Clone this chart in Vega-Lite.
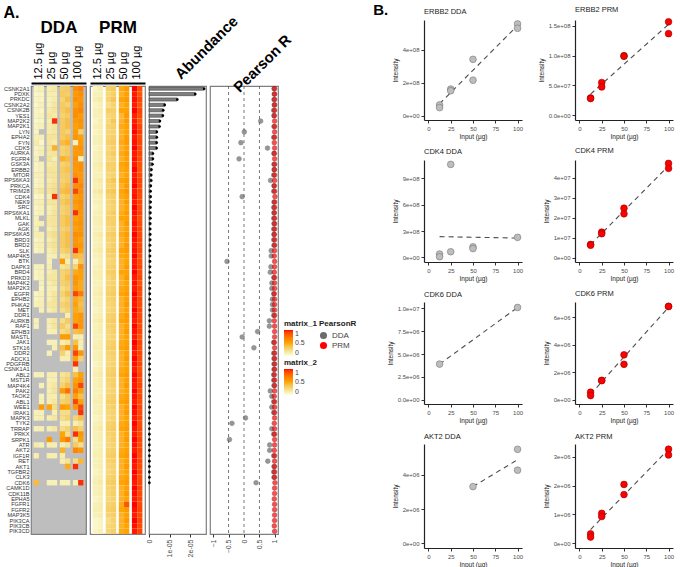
{
"$schema":"https://vega.github.io/schema/vega-lite/v6.json",
"padding":{"left":2,"top":2,"right":2,"bottom":1},
"background":"white",
"config":{
 "font":"Liberation Sans",
 "view":{"stroke":"#7f7f7f","strokeWidth":1.2},
 "axis":{"labelFont":"Liberation Sans","titleFont":"Liberation Sans","labelColor":"#4d4d4d","titleColor":"#1a1a1a","grid":false,"domainColor":"#333333","tickColor":"#333333"},
 "legend":{"labelFont":"Liberation Sans","titleFont":"Liberation Sans"},
 "title":{"font":"Liberation Sans"}
},
"datasets":{
 "cols":[
  {"key":"d1","dose":"12.5 µg","rep":1},{"key":"d2","dose":"12.5 µg","rep":2},{"key":"d3","dose":"25 µg","rep":1},{"key":"d4","dose":"25 µg","rep":2},
  {"key":"d5","dose":"50 µg","rep":1},{"key":"d6","dose":"50 µg","rep":2},{"key":"d7","dose":"100 µg","rep":1},{"key":"d8","dose":"100 µg","rep":2},
  {"key":"p1","dose":"12.5 µg","rep":1},{"key":"p2","dose":"12.5 µg","rep":2},{"key":"p3","dose":"25 µg","rep":1},{"key":"p4","dose":"25 µg","rep":2},
  {"key":"p5","dose":"50 µg","rep":1},{"key":"p6","dose":"50 µg","rep":2},{"key":"p7","dose":"100 µg","rep":1},{"key":"p8","dose":"100 µg","rep":2}
 ],
 "kin":[
{"k":"CSNK2A1","d1":0.08,"d2":0.1,"d3":0.12,"d4":0.15,"d5":0.3,"d6":0.32,"d7":0.62,"d8":0.68,"p1":0.08,"p2":0.12,"p3":0.3,"p4":0.32,"p5":0.48,"p6":0.55,"p7":1,"p8":0.88,"ab":2.67e-5,"DDA":0.97,"PRM":0.99},
{"k":"PDXK","d1":0.06,"d2":0.08,"d3":0.12,"d4":0.12,"d5":0.32,"d6":0.3,"d7":0.55,"d8":0.62,"p1":0.1,"p2":0.1,"p3":0.25,"p4":0.3,"p5":0.45,"p6":0.52,"p7":0.98,"p8":0.85,"ab":2.24e-5,"DDA":0.98,"PRM":0.99},
{"k":"PRKDC","d1":0.08,"d2":0.08,"d3":0.1,"d4":0.14,"d5":0.28,"d6":0.38,"d7":0.6,"d8":0.58,"p1":0.12,"p2":0.14,"p3":0.28,"p4":0.35,"p5":0.5,"p6":0.55,"p7":0.99,"p8":0.9,"ab":1.37e-5,"DDA":0.97,"PRM":0.99},
{"k":"CSNK2A2","d1":0.06,"d2":0.1,"d3":0.1,"d4":0.16,"d5":0.32,"d6":0.28,"d7":0.52,"d8":0.62,"p1":0.08,"p2":0.1,"p3":0.22,"p4":0.28,"p5":0.45,"p6":0.5,"p7":0.98,"p8":0.86,"ab":0.76e-5,"DDA":0.98,"PRM":0.99},
{"k":"CSNK2B","d1":0.08,"d2":0.08,"d3":0.14,"d4":0.18,"d5":0.32,"d6":0.38,"d7":0.6,"d8":0.66,"p1":0.1,"p2":0.12,"p3":0.3,"p4":0.3,"p5":0.5,"p6":0.52,"p7":1,"p8":0.9,"ab":0.69e-5,"DDA":0.96,"PRM":0.99},
{"k":"YES1","d1":0.08,"d2":0.1,"d3":0.16,"d4":0.14,"d5":0.28,"d6":0.32,"d7":0.62,"d8":0.55,"p1":0.1,"p2":0.1,"p3":0.25,"p4":0.28,"p5":0.42,"p6":0.55,"p7":0.97,"p8":0.88,"ab":0.67e-5,"DDA":0.97,"PRM":0.98},
{"k":"MAP2K2","d1":0.06,"d2":0.08,"d3":0.12,"d4":0.95,"d5":0.32,"d6":0.38,"d7":0.56,"d8":0.6,"p1":0.08,"p2":0.12,"p3":0.25,"p4":0.35,"p5":0.45,"p6":0.55,"p7":0.98,"p8":0.85,"ab":0.53e-5,"DDA":0.54,"PRM":0.99},
{"k":"MAP2K1","d1":0.08,"d2":0.1,"d3":0.14,"d4":0.18,"d5":0.32,"d6":0.38,"d7":0.52,"d8":0.58,"p1":0.1,"p2":0.12,"p3":0.28,"p4":0.3,"p5":0.48,"p6":0.52,"p7":0.99,"p8":0.9,"ab":0.51e-5,"DDA":0.97,"PRM":0.99},
{"k":"LYN","d1":0.08,"d2":null,"d3":0.14,"d4":0.16,"d5":0.32,"d6":0.28,"d7":0.55,"d8":0.3,"p1":0.08,"p2":0.1,"p3":0.26,"p4":0.28,"p5":0.45,"p6":0.5,"p7":1,"p8":0.92,"ab":0.38e-5,"DDA":0.01,"PRM":0.99},
{"k":"EPHA2","d1":0.1,"d2":0.12,"d3":0.18,"d4":0.18,"d5":0.32,"d6":0.38,"d7":0.58,"d8":0.52,"p1":0.1,"p2":0.12,"p3":0.28,"p4":0.3,"p5":0.45,"p6":0.55,"p7":0.98,"p8":0.88,"ab":0.38e-5,"DDA":0.96,"PRM":0.99},
{"k":"FYN","d1":0.14,"d2":0.06,"d3":0.16,"d4":0.14,"d5":0.4,"d6":0.45,"d7":0.1,"d8":0.55,"p1":0.1,"p2":0.12,"p3":0.3,"p4":0.32,"p5":0.48,"p6":0.55,"p7":0.99,"p8":0.9,"ab":0.37e-5,"DDA":-0.1,"PRM":0.98},
{"k":"CDK5","d1":0.08,"d2":0.1,"d3":0.18,"d4":0.45,"d5":0.28,"d6":0.32,"d7":0.55,"d8":0.6,"p1":0.08,"p2":0.1,"p3":0.25,"p4":0.3,"p5":0.45,"p6":0.52,"p7":1,"p8":0.88,"ab":0.37e-5,"DDA":0.76,"PRM":0.99},
{"k":"AURKA","d1":0.08,"d2":0.12,"d3":0.16,"d4":0.18,"d5":0.28,"d6":0.32,"d7":0.55,"d8":0.56,"p1":0.1,"p2":0.12,"p3":0.28,"p4":0.32,"p5":0.48,"p6":0.55,"p7":0.98,"p8":0.9,"ab":0.19e-5,"DDA":0.97,"PRM":0.98},
{"k":"FGFR4","d1":0.1,"d2":null,"d3":0.18,"d4":0.12,"d5":0.45,"d6":0.4,"d7":0.6,"d8":0.1,"p1":0.1,"p2":0.12,"p3":0.26,"p4":0.28,"p5":0.45,"p6":0.52,"p7":0.99,"p8":0.88,"ab":0.19e-5,"DDA":-0.16,"PRM":0.99},
{"k":"GSK3A","d1":0.08,"d2":0.1,"d3":0.14,"d4":0.16,"d5":0.28,"d6":0.32,"d7":0.58,"d8":0.6,"p1":0.12,"p2":0.14,"p3":0.3,"p4":0.3,"p5":0.5,"p6":0.55,"p7":0.98,"p8":0.86,"ab":0.17e-5,"DDA":0.97,"PRM":0.99},
{"k":"ERBB2","d1":0.08,"d2":0.1,"d3":0.18,"d4":0.18,"d5":0.32,"d6":0.36,"d7":0.55,"d8":0.6,"p1":0.1,"p2":0.12,"p3":0.28,"p4":0.3,"p5":0.48,"p6":0.52,"p7":1,"p8":0.85,"ab":0.12e-5,"DDA":0.98,"PRM":0.98},
{"k":"MTOR","d1":0.1,"d2":0.1,"d3":0.16,"d4":0.18,"d5":0.3,"d6":0.32,"d7":0.6,"d8":0.56,"p1":0.1,"p2":0.1,"p3":0.25,"p4":0.28,"p5":0.45,"p6":0.5,"p7":0.98,"p8":0.88,"ab":0.11e-5,"DDA":0.96,"PRM":0.99},
{"k":"RPS6KA3","d1":0.08,"d2":0.1,"d3":0.14,"d4":0.18,"d5":0.28,"d6":0.32,"d7":0.95,"d8":0.58,"p1":0.12,"p2":0.14,"p3":0.3,"p4":0.35,"p5":0.5,"p6":0.55,"p7":0.99,"p8":0.9,"ab":0.11e-5,"DDA":0.86,"PRM":0.99},
{"k":"PRKCA","d1":0.08,"d2":0.1,"d3":0.16,"d4":0.2,"d5":0.32,"d6":0.38,"d7":0.6,"d8":0.65,"p1":0.1,"p2":0.12,"p3":0.28,"p4":0.3,"p5":0.45,"p6":0.55,"p7":1,"p8":0.88,"ab":0.09e-5,"DDA":0.97,"PRM":0.98},
{"k":"TRIM28","d1":0.12,"d2":0.16,"d3":0.18,"d4":0.22,"d5":0.38,"d6":0.42,"d7":0.9,"d8":0.62,"p1":0.14,"p2":0.16,"p3":0.32,"p4":0.35,"p5":0.5,"p6":0.58,"p7":0.98,"p8":0.9,"ab":0.08e-5,"DDA":0.96,"PRM":0.99},
{"k":"CDK4","d1":0.06,"d2":0.08,"d3":0.12,"d4":0.95,"d5":0.28,"d6":0.32,"d7":0.52,"d8":0.58,"p1":0.1,"p2":0.12,"p3":0.28,"p4":0.3,"p5":0.48,"p6":0.52,"p7":0.99,"p8":0.88,"ab":0.08e-5,"DDA":-0.06,"PRM":1},
{"k":"NEK9","d1":0.1,"d2":0.12,"d3":0.16,"d4":0.18,"d5":0.32,"d6":0.38,"d7":0.58,"d8":0.62,"p1":0.1,"p2":0.12,"p3":0.26,"p4":0.3,"p5":0.45,"p6":0.55,"p7":0.98,"p8":0.9,"ab":0.08e-5,"DDA":0.97,"PRM":0.99},
{"k":"SRC","d1":0.08,"d2":0.1,"d3":0.12,"d4":0.16,"d5":0.28,"d6":0.32,"d7":0.52,"d8":0.6,"p1":0.08,"p2":0.1,"p3":0.25,"p4":0.28,"p5":0.45,"p6":0.5,"p7":1,"p8":0.88,"ab":0.07e-5,"DDA":0.96,"PRM":0.99},
{"k":"RPS6KA1","d1":0.08,"d2":0.1,"d3":0.12,"d4":0.18,"d5":0.28,"d6":0.32,"d7":0.95,"d8":0.58,"p1":0.1,"p2":0.12,"p3":0.28,"p4":0.32,"p5":0.48,"p6":0.55,"p7":0.99,"p8":0.9,"ab":0.07e-5,"DDA":0.97,"PRM":0.98},
{"k":"MLKL","d1":0.1,"d2":null,"d3":0.16,"d4":0.18,"d5":0.32,"d6":0.38,"d7":0.52,"d8":0.58,"p1":0.12,"p2":0.12,"p3":0.3,"p4":0.3,"p5":0.5,"p6":0.52,"p7":0.98,"p8":0.86,"ab":0.07e-5,"DDA":0.96,"PRM":0.99},
{"k":"GAK","d1":0.1,"d2":0.12,"d3":0.16,"d4":0.18,"d5":0.32,"d6":0.38,"d7":0.56,"d8":0.6,"p1":0.1,"p2":0.12,"p3":0.28,"p4":0.3,"p5":0.45,"p6":0.55,"p7":0.99,"p8":0.88,"ab":0.06e-5,"DDA":0.97,"PRM":0.99},
{"k":"AGK","d1":0.1,"d2":null,"d3":0.12,"d4":0.16,"d5":0.28,"d6":0.32,"d7":0.52,"d8":0.58,"p1":0.1,"p2":0.1,"p3":0.25,"p4":0.28,"p5":0.45,"p6":0.5,"p7":0.98,"p8":0.9,"ab":0.06e-5,"DDA":0.96,"PRM":0.99},
{"k":"RPS6KA5","d1":0.12,"d2":0.12,"d3":0.18,"d4":0.22,"d5":0.32,"d6":0.38,"d7":0.62,"d8":0.6,"p1":0.12,"p2":0.14,"p3":0.3,"p4":0.32,"p5":0.48,"p6":0.55,"p7":1,"p8":0.88,"ab":0.06e-5,"DDA":0.97,"PRM":0.98},
{"k":"BRD3","d1":0.08,"d2":0.1,"d3":0.12,"d4":0.18,"d5":0.32,"d6":0.38,"d7":0.58,"d8":0.52,"p1":0.1,"p2":0.12,"p3":0.28,"p4":0.3,"p5":0.45,"p6":0.52,"p7":0.99,"p8":0.9,"ab":0.06e-5,"DDA":0.96,"PRM":0.99},
{"k":"BRD2","d1":0.1,"d2":0.12,"d3":0.16,"d4":0.2,"d5":0.32,"d6":0.38,"d7":0.6,"d8":0.58,"p1":0.1,"p2":0.12,"p3":0.26,"p4":0.3,"p5":0.45,"p6":0.55,"p7":0.98,"p8":0.88,"ab":0.05e-5,"DDA":0.97,"PRM":0.99},
{"k":"SLK","d1":0.08,"d2":0.1,"d3":0.12,"d4":0.16,"d5":0.28,"d6":0.32,"d7":0.95,"d8":0.52,"p1":0.12,"p2":0.14,"p3":0.3,"p4":0.32,"p5":0.5,"p6":0.55,"p7":0.99,"p8":0.9,"ab":0.05e-5,"DDA":0.88,"PRM":0.99},
{"k":"MAP4K5","d1":null,"d2":null,"d3":0.1,"d4":0.12,"d5":0.18,"d6":0.22,"d7":0.42,"d8":0.38,"p1":0.1,"p2":0.12,"p3":0.28,"p4":0.3,"p5":0.48,"p6":0.52,"p7":1,"p8":0.86,"ab":0.05e-5,"DDA":0.88,"PRM":0.98},
{"k":"BTK","d1":null,"d2":null,"d3":0.1,"d4":null,"d5":0.55,"d6":0.12,"d7":0.12,"d8":0.35,"p1":0.08,"p2":0.1,"p3":0.25,"p4":0.28,"p5":0.45,"p6":0.5,"p7":0.98,"p8":0.88,"ab":0.05e-5,"DDA":-0.55,"PRM":0.99},
{"k":"DAPK3","d1":0.1,"d2":0.1,"d3":0.12,"d4":null,"d5":0.18,"d6":0.22,"d7":0.28,"d8":0.6,"p1":0.1,"p2":0.12,"p3":0.28,"p4":0.3,"p5":0.45,"p6":0.55,"p7":0.99,"p8":0.9,"ab":0.05e-5,"DDA":0.87,"PRM":0.99},
{"k":"BRD4","d1":0.08,"d2":0.1,"d3":0.12,"d4":0.16,"d5":0.28,"d6":0.32,"d7":0.48,"d8":0.52,"p1":0.12,"p2":0.12,"p3":0.3,"p4":0.32,"p5":0.5,"p6":0.52,"p7":1,"p8":0.88,"ab":0.05e-5,"DDA":0.85,"PRM":0.98},
{"k":"PRKD3","d1":0.08,"d2":0.1,"d3":0.16,"d4":0.16,"d5":0.28,"d6":0.38,"d7":0.58,"d8":0.52,"p1":0.1,"p2":0.12,"p3":0.26,"p4":0.3,"p5":0.45,"p6":0.55,"p7":0.98,"p8":0.9,"ab":0.04e-5,"DDA":0.96,"PRM":0.99},
{"k":"MAP4K2","d1":null,"d2":0.1,"d3":0.12,"d4":0.16,"d5":0.28,"d6":0.32,"d7":0.58,"d8":0.48,"p1":0.1,"p2":0.1,"p3":0.25,"p4":0.28,"p5":0.45,"p6":0.5,"p7":0.99,"p8":0.86,"ab":0.04e-5,"DDA":0.9,"PRM":0.99},
{"k":"MAP2K3","d1":null,"d2":0.08,"d3":0.12,"d4":0.12,"d5":0.22,"d6":0.28,"d7":0.52,"d8":0.48,"p1":0.1,"p2":0.12,"p3":0.28,"p4":0.3,"p5":0.48,"p6":0.52,"p7":0.98,"p8":0.9,"ab":0.04e-5,"DDA":0.9,"PRM":0.99},
{"k":"EGFR","d1":0.08,"d2":0.1,"d3":0.12,"d4":0.16,"d5":0.28,"d6":0.38,"d7":0.9,"d8":0.7,"p1":0.12,"p2":0.14,"p3":0.3,"p4":0.32,"p5":0.5,"p6":0.55,"p7":1,"p8":0.88,"ab":0.04e-5,"DDA":0.96,"PRM":0.98},
{"k":"EPHB2","d1":0.08,"d2":0.1,"d3":0.12,"d4":0.18,"d5":0.22,"d6":0.28,"d7":0.48,"d8":0.42,"p1":0.1,"p2":0.12,"p3":0.28,"p4":0.3,"p5":0.45,"p6":0.52,"p7":0.99,"p8":0.9,"ab":0.04e-5,"DDA":0.92,"PRM":0.99},
{"k":"PHKA2","d1":0.1,"d2":0.12,"d3":0.16,"d4":0.18,"d5":0.28,"d6":0.32,"d7":0.52,"d8":0.38,"p1":0.1,"p2":0.12,"p3":0.26,"p4":0.28,"p5":0.45,"p6":0.55,"p7":0.98,"p8":0.88,"ab":0.04e-5,"DDA":0.92,"PRM":0.99},
{"k":"MET","d1":null,"d2":0.1,"d3":0.12,"d4":0.16,"d5":0.22,"d6":0.28,"d7":0.48,"d8":0.42,"p1":0.08,"p2":0.1,"p3":0.25,"p4":0.28,"p5":0.45,"p6":0.5,"p7":1,"p8":0.9,"ab":0.04e-5,"DDA":0.92,"PRM":0.99},
{"k":"DDR1","d1":null,"d2":null,"d3":null,"d4":null,"d5":null,"d6":0.12,"d7":0.52,"d8":0.58,"p1":0.1,"p2":0.12,"p3":0.28,"p4":0.3,"p5":0.48,"p6":0.55,"p7":0.99,"p8":0.88,"ab":0.04e-5,"DDA":0.96,"PRM":0.99},
{"k":"AURKB","d1":0.1,"d2":null,"d3":0.12,"d4":0.16,"d5":0.22,"d6":0.32,"d7":0.52,"d8":0.58,"p1":0.12,"p2":0.14,"p3":0.3,"p4":0.32,"p5":0.5,"p6":0.55,"p7":0.98,"p8":0.9,"ab":0.04e-5,"DDA":0.82,"PRM":0.98},
{"k":"RAF1","d1":0.1,"d2":null,"d3":0.12,"d4":0.18,"d5":0.32,"d6":0.22,"d7":0.9,"d8":0.58,"p1":0.1,"p2":0.12,"p3":0.28,"p4":0.3,"p5":0.45,"p6":0.52,"p7":1,"p8":0.88,"ab":0.04e-5,"DDA":0.82,"PRM":0.99},
{"k":"EPHB3","d1":null,"d2":null,"d3":0.1,"d4":0.12,"d5":0.22,"d6":0.28,"d7":0.38,"d8":0.42,"p1":0.1,"p2":0.12,"p3":0.26,"p4":0.3,"p5":0.45,"p6":0.55,"p7":0.99,"p8":0.9,"ab":0.04e-5,"DDA":0.44,"PRM":0.99},
{"k":"MASTL","d1":null,"d2":null,"d3":null,"d4":null,"d5":0.55,"d6":0.55,"d7":0.12,"d8":0.12,"p1":0.1,"p2":0.1,"p3":0.25,"p4":0.28,"p5":0.45,"p6":0.5,"p7":0.98,"p8":0.86,"ab":0.03e-5,"DDA":-0.06,"PRM":0.99},
{"k":"JAK1","d1":null,"d2":null,"d3":0.1,"d4":0.1,"d5":0.12,"d6":0.16,"d7":0.38,"d8":0.12,"p1":0.1,"p2":0.12,"p3":0.28,"p4":0.3,"p5":0.48,"p6":0.52,"p7":1,"p8":0.9,"ab":0.03e-5,"DDA":0.96,"PRM":0.98},
{"k":"STK16","d1":null,"d2":null,"d3":null,"d4":0.12,"d5":0.38,"d6":0.55,"d7":0.58,"d8":0.12,"p1":0.12,"p2":0.12,"p3":0.3,"p4":0.32,"p5":0.5,"p6":0.55,"p7":0.99,"p8":0.88,"ab":0.03e-5,"DDA":0.32,"PRM":0.99},
{"k":"DDR2","d1":null,"d2":null,"d3":0.1,"d4":null,"d5":0.28,"d6":0.12,"d7":0.9,"d8":0.58,"p1":0.1,"p2":0.12,"p3":0.28,"p4":0.3,"p5":0.45,"p6":0.52,"p7":0.98,"p8":0.9,"ab":0.03e-5,"DDA":0.96,"PRM":0.99},
{"k":"ADCK1","d1":null,"d2":null,"d3":null,"d4":null,"d5":0.12,"d6":0.12,"d7":0.52,"d8":0.28,"p1":0.1,"p2":0.12,"p3":0.26,"p4":0.28,"p5":0.45,"p6":0.55,"p7":1,"p8":0.88,"ab":0.03e-5,"DDA":0.97,"PRM":0.99},
{"k":"PDGFRB","d7":0.95,"p1":0.08,"p2":0.1,"p3":0.25,"p4":0.28,"p5":0.45,"p6":0.5,"p7":0.99,"p8":0.9,"ab":0.03e-5,"DDA":0.97,"PRM":0.99},
{"k":"CSNK1A1","d7":0.12,"p1":0.1,"p2":0.12,"p3":0.28,"p4":0.3,"p5":0.48,"p6":0.52,"p7":0.98,"p8":0.86,"ab":0.03e-5,"DDA":0.97,"PRM":0.99},
{"k":"ABL2","d1":0.1,"d2":0.1,"d3":0.12,"d4":0.12,"d5":0.18,"d6":0.22,"d7":0.38,"d8":0.52,"p1":0.12,"p2":0.14,"p3":0.3,"p4":0.32,"p5":0.5,"p6":0.55,"p7":1,"p8":0.9,"ab":0.03e-5,"DDA":0.96,"PRM":0.98},
{"k":"MST1R","d1":null,"d2":null,"d3":0.1,"d4":0.12,"d5":0.22,"d6":0.28,"d7":0.52,"d8":0.58,"p1":0.1,"p2":0.12,"p3":0.28,"p4":0.3,"p5":0.45,"p6":0.52,"p7":0.99,"p8":0.88,"ab":0.03e-5,"DDA":0.96,"PRM":0.99},
{"k":"MAP4K4","d1":null,"d2":0.1,"d3":0.12,"d4":0.16,"d5":0.28,"d6":0.38,"d7":0.58,"d8":0.9,"p1":0.1,"p2":0.12,"p3":0.26,"p4":0.3,"p5":0.45,"p6":0.55,"p7":0.98,"p8":0.9,"ab":0.03e-5,"DDA":0.97,"PRM":0.99},
{"k":"PAK2","d1":null,"d2":null,"d3":0.12,"d4":0.18,"d5":0.55,"d6":0.75,"d7":0.7,"d8":0.52,"p1":0.1,"p2":0.1,"p3":0.25,"p4":0.28,"p5":0.45,"p6":0.5,"p7":1,"p8":0.88,"ab":0.03e-5,"DDA":0.85,"PRM":0.99},
{"k":"TAOK2","d1":null,"d2":0.1,"d3":0.12,"d4":0.12,"d5":0.22,"d6":0.32,"d7":0.52,"d8":0.38,"p1":0.1,"p2":0.12,"p3":0.28,"p4":0.3,"p5":0.48,"p6":0.52,"p7":0.99,"p8":0.9,"ab":0.03e-5,"DDA":0.9,"PRM":0.98},
{"k":"ABL1","d1":null,"d2":0.1,"d3":0.12,"d4":0.16,"d5":0.28,"d6":0.32,"d7":0.9,"d8":0.52,"p1":0.12,"p2":0.12,"p3":0.3,"p4":0.32,"p5":0.5,"p6":0.55,"p7":0.98,"p8":0.88,"ab":0.03e-5,"DDA":0.96,"PRM":0.99},
{"k":"WEE1","d1":null,"d2":0.55,"d3":0.5,"d4":0.22,"d5":0.55,"d6":0.5,"d7":0.58,"d8":0.9,"p1":0.1,"p2":0.12,"p3":0.28,"p4":0.3,"p5":0.45,"p6":0.52,"p7":1,"p8":0.9,"ab":0.03e-5,"DDA":0.9,"PRM":0.99},
{"k":"IRAK1","d1":0.1,"d2":0.1,"d3":null,"d4":0.12,"d5":0.22,"d6":0.22,"d7":null,"d8":0.95,"p1":0.1,"p2":0.12,"p3":0.26,"p4":0.28,"p5":0.45,"p6":0.55,"p7":0.99,"p8":0.88,"ab":0.03e-5,"DDA":0.96,"PRM":0.99},
{"k":"MAPK3","d1":0.1,"d2":0.12,"d3":0.12,"d4":0.16,"d5":0.22,"d6":0.28,"d7":0.28,"d8":0.38,"p1":0.08,"p2":0.1,"p3":0.25,"p4":0.28,"p5":0.45,"p6":0.5,"p7":0.98,"p8":0.9,"ab":0.02e-5,"DDA":0.05,"PRM":0.99},
{"k":"TYK2","d1":null,"d2":null,"d3":null,"d4":null,"d5":0.12,"d6":0.12,"d7":0.12,"d8":0.18,"p1":0.1,"p2":0.12,"p3":0.28,"p4":0.3,"p5":0.48,"p6":0.52,"p7":1,"p8":0.88,"ab":0.02e-5,"DDA":-0.39,"PRM":0.98},
{"k":"TRRAP","d1":0.1,"d2":0.12,"d3":0.12,"d4":0.16,"d5":0.22,"d6":0.28,"d7":0.38,"d8":0.28,"p1":0.12,"p2":0.14,"p3":0.3,"p4":0.32,"p5":0.5,"p6":0.55,"p7":0.99,"p8":0.9,"ab":0.02e-5,"DDA":0.9,"PRM":0.99},
{"k":"PRKX","d1":null,"d2":null,"d3":null,"d4":null,"d5":0.5,"d6":0.22,"d7":0.95,"d8":0.58,"p1":0.1,"p2":0.12,"p3":0.28,"p4":0.3,"p5":0.45,"p6":0.52,"p7":0.98,"p8":0.88,"ab":0.02e-5,"DDA":0.96,"PRM":0.99},
{"k":"SRPK1","d1":null,"d2":null,"d3":0.55,"d4":null,"d5":0.55,"d6":0.7,"d7":0.22,"d8":0.52,"p1":0.1,"p2":0.12,"p3":0.26,"p4":0.3,"p5":0.45,"p6":0.55,"p7":1,"p8":0.9,"ab":0.02e-5,"DDA":-0.47,"PRM":0.99},
{"k":"ATR","d1":0.14,"d2":0.1,"d3":0.12,"d4":0.12,"d5":0.12,"d6":0.18,"d7":0.32,"d8":0.22,"p1":0.1,"p2":0.1,"p3":0.25,"p4":0.28,"p5":0.45,"p6":0.5,"p7":0.99,"p8":0.88,"ab":0.02e-5,"DDA":0.83,"PRM":0.99},
{"k":"AKT2","d1":null,"d2":null,"d3":null,"d4":null,"d5":0.45,"d6":null,"d7":0.65,"d8":0.58,"p1":0.1,"p2":0.12,"p3":0.28,"p4":0.3,"p5":0.48,"p6":0.52,"p7":0.98,"p8":0.9,"ab":0.02e-5,"DDA":0.83,"PRM":0.98},
{"k":"IGF1R","d1":0.12,"d2":null,"d3":0.12,"d4":0.12,"d5":0.12,"d6":null,"d7":null,"d8":null,"p1":0.12,"p2":0.12,"p3":0.3,"p4":0.32,"p5":0.5,"p6":0.55,"p7":1,"p8":0.88,"ab":0.02e-5,"DDA":0.96,"PRM":0.99},
{"k":"RET","d1":null,"d2":null,"d3":null,"d4":null,"d5":0.12,"d6":0.18,"d7":0.22,"d8":0.42,"p1":0.1,"p2":0.12,"p3":0.28,"p4":0.3,"p5":0.45,"p6":0.52,"p7":0.99,"p8":0.9,"ab":0.02e-5,"DDA":0.77,"PRM":0.99},
{"k":"AKT1","d6":0.48,"d7":0.95,"p1":0.1,"p2":0.12,"p3":0.26,"p4":0.28,"p5":0.45,"p6":0.55,"p7":0.98,"p8":0.88,"ab":0.02e-5,"DDA":0.97,"PRM":0.99},
{"k":"TGFBR2","p1":0.08,"p2":0.1,"p3":0.25,"p4":0.28,"p5":0.45,"p6":0.5,"p7":1,"p8":0.9,"ab":0.02e-5,"DDA":0.96,"PRM":0.99},
{"k":"CLK3","p1":0.1,"p2":0.12,"p3":0.28,"p4":0.3,"p5":0.48,"p6":0.52,"p7":0.99,"p8":0.88,"ab":0.02e-5,"DDA":0.97,"PRM":0.99},
{"k":"CDK6","d1":0.4,"d3":0.1,"d4":0.1,"d5":0.1,"d6":0.1,"d7":0.1,"d8":0.95,"p1":0.12,"p2":0.14,"p3":0.3,"p4":0.32,"p5":0.5,"p6":0.55,"p7":0.98,"p8":0.9,"ab":0.02e-5,"DDA":0.39,"PRM":1},
{"k":"CAMK1D","p1":0.1,"p2":0.12,"p3":0.28,"p4":0.3,"p5":0.45,"p6":0.52,"p7":1,"p8":0.9,"PRM":0.99},
{"k":"CDK11B","p1":0.1,"p2":0.12,"p3":0.26,"p4":0.3,"p5":0.45,"p6":0.55,"p7":0.99,"p8":0.88,"PRM":0.99},
{"k":"EPHA5","p1":0.08,"p2":0.1,"p3":0.25,"p4":0.28,"p5":0.45,"p6":0.5,"p7":0.98,"p8":0.9,"PRM":0.98},
{"k":"FGFR1","p1":0.1,"p2":0.12,"p3":0.28,"p4":0.3,"p5":0.48,"p6":0.85,"p7":1,"p8":0.88,"PRM":0.99},
{"k":"FGFR2","p1":0.12,"p2":0.12,"p3":0.3,"p4":0.32,"p5":0.5,"p6":0.55,"p7":0.99,"p8":0.9,"PRM":0.99},
{"k":"MAP3K5","p1":0.1,"p2":0.12,"p3":0.28,"p4":0.3,"p5":0.45,"p6":0.52,"p7":0.98,"p8":0.88,"PRM":0.99},
{"k":"PIK3CA","p1":0.06,"p2":0.08,"p3":0.22,"p4":0.28,"p5":0.45,"p6":0.55,"p7":1,"p8":0.9,"PRM":0.99},
{"k":"PIK3CB","p1":0.06,"p2":0.08,"p3":0.25,"p4":0.28,"p5":0.45,"p6":0.5,"p7":0.99,"p8":0.88,"PRM":0.98},
{"k":"PIK3CD","p1":0.08,"p2":0.1,"p3":0.26,"p4":0.3,"p5":0.48,"p6":0.52,"p7":0.98,"p8":0.9,"PRM":0.99}
 ],
 "pts":[
  {"plot":"ERBB2 DDA","x":12.5,"y":6.6e7},{"plot":"ERBB2 DDA","x":12.5,"y":5.0e7},{"plot":"ERBB2 DDA","x":25,"y":1.62e8},{"plot":"ERBB2 DDA","x":25,"y":1.52e8},{"plot":"ERBB2 DDA","x":50,"y":3.42e8},{"plot":"ERBB2 DDA","x":50,"y":2.16e8},{"plot":"ERBB2 DDA","x":100,"y":5.56e8},{"plot":"ERBB2 DDA","x":100,"y":5.3e8},
  {"plot":"ERBB2 PRM","x":12.5,"y":2.9e7},{"plot":"ERBB2 PRM","x":12.5,"y":2.8e7},{"plot":"ERBB2 PRM","x":25,"y":5.5e7},{"plot":"ERBB2 PRM","x":25,"y":4.76e7},{"plot":"ERBB2 PRM","x":50,"y":1.0e8},{"plot":"ERBB2 PRM","x":50,"y":0.99e8},{"plot":"ERBB2 PRM","x":100,"y":1.57e8},{"plot":"ERBB2 PRM","x":100,"y":1.37e8},
  {"plot":"CDK4 DDA","x":12.5,"y":3.8e7},{"plot":"CDK4 DDA","x":12.5,"y":0.7e7},{"plot":"CDK4 DDA","x":25,"y":6.4e7},{"plot":"CDK4 DDA","x":25,"y":1.06e9},{"plot":"CDK4 DDA","x":50,"y":1.2e8},{"plot":"CDK4 DDA","x":50,"y":1.0e8},{"plot":"CDK4 DDA","x":100,"y":2.28e8},
  {"plot":"CDK4 PRM","x":12.5,"y":6.6e6},{"plot":"CDK4 PRM","x":12.5,"y":6.2e6},{"plot":"CDK4 PRM","x":25,"y":1.28e7},{"plot":"CDK4 PRM","x":25,"y":1.2e7},{"plot":"CDK4 PRM","x":50,"y":2.48e7},{"plot":"CDK4 PRM","x":50,"y":2.2e7},{"plot":"CDK4 PRM","x":100,"y":4.73e7},{"plot":"CDK4 PRM","x":100,"y":4.48e7},
  {"plot":"CDK6 DDA","x":12.5,"y":3.9e6},{"plot":"CDK6 DDA","x":100,"y":1.01e7},
  {"plot":"CDK6 PRM","x":12.5,"y":5.4e5},{"plot":"CDK6 PRM","x":12.5,"y":2.9e5},{"plot":"CDK6 PRM","x":25,"y":1.4e6},{"plot":"CDK6 PRM","x":25,"y":1.38e6},{"plot":"CDK6 PRM","x":50,"y":3.26e6},{"plot":"CDK6 PRM","x":50,"y":2.57e6},{"plot":"CDK6 PRM","x":100,"y":6.79e6},{"plot":"CDK6 PRM","x":100,"y":6.77e6},
  {"plot":"AKT2 DDA","x":50,"y":3.31e6},{"plot":"AKT2 DDA","x":100,"y":5.49e6},{"plot":"AKT2 DDA","x":100,"y":4.27e6},
  {"plot":"AKT2 PRM","x":12.5,"y":3.3e5},{"plot":"AKT2 PRM","x":12.5,"y":2.2e5},{"plot":"AKT2 PRM","x":25,"y":1.04e6},{"plot":"AKT2 PRM","x":25,"y":9.3e5},{"plot":"AKT2 PRM","x":50,"y":2.04e6},{"plot":"AKT2 PRM","x":50,"y":1.69e6},{"plot":"AKT2 PRM","x":100,"y":3.26e6},{"plot":"AKT2 PRM","x":100,"y":3.06e6}
 ],
 "ann":[
  {"plot":"ERBB2 DDA","label":"R = 0.98, p = 1.1e-05"},
  {"plot":"ERBB2 PRM","label":"R = 0.98, p = 2.8e-05"},
  {"plot":"CDK4 DDA","label":"R = -0.063, p = 0.96"},
  {"plot":"CDK4 PRM","label":"R = 1, p = 1.3e-08"},
  {"plot":"CDK6 PRM","label":"R = 1, p = 1e-07"},
  {"plot":"AKT2 DDA","label":"R = 0.83, p = 0.38"},
  {"plot":"AKT2 PRM","label":"R = 0.98, p = 1.1e-05"}
 ]
},
"spacing":15,
"hconcat":[
 {
 "spacing":2,
 "bounds":"flush",
 "vconcat":[
 {"width":10,"height":64,"view":{"stroke":null},"data":{"values":[]},"mark":"point","encoding":{}},
 {
  "spacing":4,
  "bounds":"flush",
  "resolve":{"scale":{"color":"independent"},"legend":{"color":"independent"}},
  "hconcat":[
   {
    "width":55,"height":448,
    "view":{"fill":"#BEBEBE","stroke":"#7f7f7f","strokeWidth":1.2},
    "title":{"text":"A.","anchor":"start","frame":"bounds","fontSize":16,"fontWeight":"bold","color":"black","offset":-3},
    "data":{"name":"kin"},
    "transform":[
     {"fold":["d1","d2","d3","d4","d5","d6","d7","d8"],"as":["key","v"]},
     {"lookup":"key","from":{"data":{"name":"cols"},"key":"key","fields":["dose","rep"]}},
     {"filter":{"field":"v","valid":true}}
    ],
    "mark":{"type":"rect"},
    "encoding":{
     "y":{"field":"k","type":"nominal","scale":{"domain":["CSNK2A1","PDXK","PRKDC","CSNK2A2","CSNK2B","YES1","MAP2K2","MAP2K1","LYN","EPHA2","FYN","CDK5","AURKA","FGFR4","GSK3A","ERBB2","MTOR","RPS6KA3","PRKCA","TRIM28","CDK4","NEK9","SRC","RPS6KA1","MLKL","GAK","AGK","RPS6KA5","BRD3","BRD2","SLK","MAP4K5","BTK","DAPK3","BRD4","PRKD3","MAP4K2","MAP2K3","EGFR","EPHB2","PHKA2","MET","DDR1","AURKB","RAF1","EPHB3","MASTL","JAK1","STK16","DDR2","ADCK1","PDGFRB","CSNK1A1","ABL2","MST1R","MAP4K4","PAK2","TAOK2","ABL1","WEE1","IRAK1","MAPK3","TYK2","TRRAP","PRKX","SRPK1","ATR","AKT2","IGF1R","RET","AKT1","TGFBR2","CLK3","CDK6","CAMK1D","CDK11B","EPHA5","FGFR1","FGFR2","MAP3K5","PIK3CA","PIK3CB","PIK3CD"]},
          "axis":{"title":null,"labelFontSize":5.6,"labelColor":"#333333","ticks":false,"domain":false,"labelPadding":2}},
     "x":{"field":"dose","type":"ordinal","sort":["12.5 µg","25 µg","50 µg","100 µg"],
          "axis":{"orient":"top","title":"DDA","titleFontSize":17,"titleFontWeight":"bold","titleColor":"black","titlePadding":6,"labelAngle":270,"labelAlign":"left","labelBaseline":"middle","labelFontSize":11,"labelColor":"black","ticks":false,"domainColor":"black","domainWidth":2,"labelPadding":4,"offset":3}},
     "xOffset":{"field":"rep","type":"ordinal"},
     "color":{"field":"v","type":"quantitative","scale":{"domain":[0,0.5,1],"range":["#FFFFE0","#FFA500","#FF0000"]},
       "legend":{"title":"matrix_1","orient":"none","legendX":253,"legendY":234,"direction":"vertical","gradientLength":26,"gradientThickness":9,"titleFontSize":8,"titleFontWeight":"bold","labelFontSize":7,"values":[0,0.5,1],"format":".1~f","titlePadding":2,"labelOffset":2,"titleColor":"#222222","labelColor":"#444444"}}
    }
   },
   {
    "width":55,"height":448,
    "data":{"name":"kin"},
    "transform":[
     {"fold":["p1","p2","p3","p4","p5","p6","p7","p8"],"as":["key","v"]},
     {"lookup":"key","from":{"data":{"name":"cols"},"key":"key","fields":["dose","rep"]}},
     {"filter":{"field":"v","valid":true}}
    ],
    "mark":{"type":"rect"},
    "encoding":{
     "y":{"field":"k","type":"nominal","scale":{"domain":["CSNK2A1","PDXK","PRKDC","CSNK2A2","CSNK2B","YES1","MAP2K2","MAP2K1","LYN","EPHA2","FYN","CDK5","AURKA","FGFR4","GSK3A","ERBB2","MTOR","RPS6KA3","PRKCA","TRIM28","CDK4","NEK9","SRC","RPS6KA1","MLKL","GAK","AGK","RPS6KA5","BRD3","BRD2","SLK","MAP4K5","BTK","DAPK3","BRD4","PRKD3","MAP4K2","MAP2K3","EGFR","EPHB2","PHKA2","MET","DDR1","AURKB","RAF1","EPHB3","MASTL","JAK1","STK16","DDR2","ADCK1","PDGFRB","CSNK1A1","ABL2","MST1R","MAP4K4","PAK2","TAOK2","ABL1","WEE1","IRAK1","MAPK3","TYK2","TRRAP","PRKX","SRPK1","ATR","AKT2","IGF1R","RET","AKT1","TGFBR2","CLK3","CDK6","CAMK1D","CDK11B","EPHA5","FGFR1","FGFR2","MAP3K5","PIK3CA","PIK3CB","PIK3CD"]},"axis":null},
     "x":{"field":"dose","type":"ordinal","sort":["12.5 µg","25 µg","50 µg","100 µg"],
          "axis":{"orient":"top","title":"PRM","titleFontSize":17,"titleFontWeight":"bold","titleColor":"black","titlePadding":6,"labelAngle":270,"labelAlign":"left","labelBaseline":"middle","labelFontSize":11,"labelColor":"black","ticks":false,"domainColor":"black","domainWidth":2,"labelPadding":4,"offset":3}},
     "xOffset":{"field":"rep","type":"ordinal"},
     "color":{"field":"v","type":"quantitative","scale":{"domain":[0,0.5,1],"range":["#FFFFE0","#FFA500","#FF0000"]},
       "legend":{"title":"matrix_2","orient":"none","legendX":194,"legendY":273,"direction":"vertical","gradientLength":26,"gradientThickness":9,"titleFontSize":8,"titleFontWeight":"bold","labelFontSize":7,"values":[0,0.5,1],"format":".1~f","titlePadding":2,"labelOffset":2,"titleColor":"#222222","labelColor":"#444444"}}
    }
   },
   {
    "width":57,"height":448,
    "title":{"text":"Abundance","angle":-45,"align":"left","anchor":"middle","frame":"group","fontSize":15,"fontWeight":"bold","color":"black","offset":-49,"dx":-7},
    "data":{"name":"kin"},
    "encoding":{
     "y":{"field":"k","type":"nominal","scale":{"domain":["CSNK2A1","PDXK","PRKDC","CSNK2A2","CSNK2B","YES1","MAP2K2","MAP2K1","LYN","EPHA2","FYN","CDK5","AURKA","FGFR4","GSK3A","ERBB2","MTOR","RPS6KA3","PRKCA","TRIM28","CDK4","NEK9","SRC","RPS6KA1","MLKL","GAK","AGK","RPS6KA5","BRD3","BRD2","SLK","MAP4K5","BTK","DAPK3","BRD4","PRKD3","MAP4K2","MAP2K3","EGFR","EPHB2","PHKA2","MET","DDR1","AURKB","RAF1","EPHB3","MASTL","JAK1","STK16","DDR2","ADCK1","PDGFRB","CSNK1A1","ABL2","MST1R","MAP4K4","PAK2","TAOK2","ABL1","WEE1","IRAK1","MAPK3","TYK2","TRRAP","PRKX","SRPK1","ATR","AKT2","IGF1R","RET","AKT1","TGFBR2","CLK3","CDK6","CAMK1D","CDK11B","EPHA5","FGFR1","FGFR2","MAP3K5","PIK3CA","PIK3CB","PIK3CD"]},"axis":null},
     "x":{"field":"ab","type":"quantitative","scale":{"domain":[0,2.76e-5],"nice":false},
          "axis":{"title":null,"values":[0,1e-5,2e-5],"labelExpr":"datum.value == 0 ? '0' : replace(format(datum.value, '.0e'), 'e-', 'e-0')","labelAngle":270,"labelAlign":"right","labelBaseline":"middle","labelFontSize":7,"tickSize":3,"domain":false}}
    },
    "layer":[
     {"mark":{"type":"bar","fill":"#7f7f7f","stroke":"#333333","strokeWidth":0.5,"height":{"band":0.65}}},
     {"mark":{"type":"point","filled":true,"color":"black","size":7,"opacity":1}}
    ]
   },
   {
    "width":68,"height":448,
    "title":{"text":"Pearson R","angle":-45,"align":"left","anchor":"middle","frame":"group","fontSize":15,"fontWeight":"bold","color":"black","offset":-50,"dx":-18},
    "encoding":{
     "x":{"field":"r","type":"quantitative","scale":{"domain":[-1.1,1.1],"nice":false},
          "axis":{"title":null,"values":[-1,-0.5,0,0.5,1],"format":".1~f","labelAngle":270,"labelAlign":"right","labelBaseline":"middle","labelFontSize":7,"tickSize":3,"domain":false}}
    },
    "layer":[
     {"data":{"values":[{"r":-0.5},{"r":0},{"r":0.5}]},"mark":{"type":"rule","strokeDash":[3,3],"color":"#555555","strokeWidth":0.8}},
     {"data":{"name":"kin"},
      "transform":[{"fold":["DDA","PRM"],"as":["PearsonR","r"]},{"filter":{"field":"r","valid":true}}],
      "mark":{"type":"point","filled":true,"size":22,"opacity":0.7,"strokeWidth":0.6},
      "encoding":{
       "y":{"field":"k","type":"nominal","scale":{"domain":["CSNK2A1","PDXK","PRKDC","CSNK2A2","CSNK2B","YES1","MAP2K2","MAP2K1","LYN","EPHA2","FYN","CDK5","AURKA","FGFR4","GSK3A","ERBB2","MTOR","RPS6KA3","PRKCA","TRIM28","CDK4","NEK9","SRC","RPS6KA1","MLKL","GAK","AGK","RPS6KA5","BRD3","BRD2","SLK","MAP4K5","BTK","DAPK3","BRD4","PRKD3","MAP4K2","MAP2K3","EGFR","EPHB2","PHKA2","MET","DDR1","AURKB","RAF1","EPHB3","MASTL","JAK1","STK16","DDR2","ADCK1","PDGFRB","CSNK1A1","ABL2","MST1R","MAP4K4","PAK2","TAOK2","ABL1","WEE1","IRAK1","MAPK3","TYK2","TRRAP","PRKX","SRPK1","ATR","AKT2","IGF1R","RET","AKT1","TGFBR2","CLK3","CDK6","CAMK1D","CDK11B","EPHA5","FGFR1","FGFR2","MAP3K5","PIK3CA","PIK3CB","PIK3CD"]},"axis":null},
       "color":{"field":"PearsonR","type":"nominal","scale":{"domain":["DDA","PRM"],"range":["#6b6b6b","#ff0000"]},
        "legend":{"title":"PearsonR","orient":"none","legendX":109,"legendY":234,"symbolSize":50,"symbolType":"circle","titleFontSize":8,"titleFontWeight":"bold","labelFontSize":8,"titleColor":"#222222","labelColor":"#444444","symbolOpacity":1,"rowPadding":1,"titlePadding":3}},
       "stroke":{"field":"PearsonR","type":"nominal","scale":{"domain":["DDA","PRM"],"range":["#555555","#8b0000"]},"legend":null}
      }
     }
    ]
   }
  ]
 }
 ]
 },
 {
  "title":{"text":"B.","anchor":"start","frame":"bounds","fontSize":15,"fontWeight":"bold","color":"black","offset":-12,"dx":-14},
  "columns":2,
  "bounds":"flush",
  "spacing":{"row":40,"column":53},
  "concat":[
   {"width":98,"height":100,"view":{"stroke":null},
    "title":{"text":"ERBB2 DDA","anchor":"start","frame":"group","fontSize":7.5,"fontWeight":"normal","color":"#222222","offset":4},
    "data":{"name":"pts"},"transform":[{"filter":"datum.plot == 'ERBB2 DDA'"}],
    "encoding":{
     "x":{"field":"x","type":"quantitative","scale":{"domain":[-5,105],"nice":false,"zero":false},"axis":{"values":[0,25,50,75,100],"title":"Input (µg)","titleFontSize":6.5,"titleFontWeight":"normal","labelFontSize":6,"tickSize":3,"domainColor":"#222222","domainWidth":1.2,"labelPadding":2,"titlePadding":2}},
     "y":{"field":"y","type":"quantitative","scale":{"domain":[-2.5e7,5.8e8],"nice":false,"zero":false},"axis":{"values":[0,2e8,4e8],"labelExpr":"replace(replace(format(datum.value, '.0e'), 'e+', 'e+0'), 'e-', 'e-0')","title":"Intensity","titleFontSize":6.5,"titleFontWeight":"normal","labelFontSize":6,"tickSize":3,"domainColor":"#222222","domainWidth":1.2,"labelPadding":2,"titlePadding":4}}
    },
    "layer":[
     {"transform":[{"regression":"y","on":"x"}],"mark":{"type":"line","strokeDash":[5,4],"color":"#4d4d4d","strokeWidth":1.1}},
     {"mark":{"type":"point","filled":true,"fill":"#BDBDBD","stroke":"#777777","strokeWidth":0.6,"size":45,"opacity":1}},
     {"transform":[{"aggregate":[{"op":"max","field":"y","as":"y"}],"groupby":["plot"]},{"lookup":"plot","from":{"data":{"name":"ann"},"key":"plot","fields":["label"]}}],
      "mark":{"type":"text","align":"left","baseline":"middle","fontSize":5.5,"color":"#333333"},"encoding":{"x":{"datum":0},"text":{"field":"label"}}}
    ]
   },
   {"width":98,"height":100,"view":{"stroke":null},
    "title":{"text":"ERBB2 PRM","anchor":"start","frame":"group","fontSize":7.5,"fontWeight":"normal","color":"#222222","offset":4},
    "data":{"name":"pts"},"transform":[{"filter":"datum.plot == 'ERBB2 PRM'"}],
    "encoding":{
     "x":{"field":"x","type":"quantitative","scale":{"domain":[-5,105],"nice":false,"zero":false},"axis":{"values":[0,25,50,75,100],"title":"Input (µg)","titleFontSize":6.5,"titleFontWeight":"normal","labelFontSize":6,"tickSize":3,"domainColor":"#222222","domainWidth":1.2,"labelPadding":2,"titlePadding":2}},
     "y":{"field":"y","type":"quantitative","scale":{"domain":[-8e6,1.6e8],"nice":false,"zero":false},"axis":{"values":[0,5e7,1e8,1.5e8],"labelExpr":"replace(replace(format(datum.value, '.1e'), 'e+', 'e+0'), 'e-', 'e-0')","title":"Intensity","titleFontSize":6.5,"titleFontWeight":"normal","labelFontSize":6,"tickSize":3,"domainColor":"#222222","domainWidth":1.2,"labelPadding":2,"titlePadding":4}}
    },
    "layer":[
     {"transform":[{"regression":"y","on":"x"}],"mark":{"type":"line","strokeDash":[5,4],"color":"#4d4d4d","strokeWidth":1.1}},
     {"mark":{"type":"point","filled":true,"fill":"#FF0000","stroke":"#990000","strokeWidth":0.6,"size":45,"opacity":1}},
     {"transform":[{"aggregate":[{"op":"max","field":"y","as":"y"}],"groupby":["plot"]},{"lookup":"plot","from":{"data":{"name":"ann"},"key":"plot","fields":["label"]}}],
      "mark":{"type":"text","align":"left","baseline":"middle","fontSize":5.5,"color":"#333333"},"encoding":{"x":{"datum":0},"text":{"field":"label"}}}
    ]
   },
   {"width":98,"height":102,"view":{"stroke":null},
    "title":{"text":"CDK4 DDA","anchor":"start","frame":"group","fontSize":7.5,"fontWeight":"normal","color":"#222222","offset":4},
    "data":{"name":"pts"},"transform":[{"filter":"datum.plot == 'CDK4 DDA'"}],
    "encoding":{
     "x":{"field":"x","type":"quantitative","scale":{"domain":[-5,105],"nice":false,"zero":false},"axis":{"values":[0,25,50,75,100],"title":"Input (µg)","titleFontSize":6.5,"titleFontWeight":"normal","labelFontSize":6,"tickSize":3,"domainColor":"#222222","domainWidth":1.2,"labelPadding":2,"titlePadding":2}},
     "y":{"field":"y","type":"quantitative","scale":{"domain":[-5.3e7,1.11e9],"nice":false,"zero":false},"axis":{"values":[0,3e8,6e8,9e8],"labelExpr":"replace(replace(format(datum.value, '.0e'), 'e+', 'e+0'), 'e-', 'e-0')","title":"Intensity","titleFontSize":6.5,"titleFontWeight":"normal","labelFontSize":6,"tickSize":3,"domainColor":"#222222","domainWidth":1.2,"labelPadding":2,"titlePadding":4}}
    },
    "layer":[
     {"transform":[{"regression":"y","on":"x"}],"mark":{"type":"line","strokeDash":[5,4],"color":"#4d4d4d","strokeWidth":1.1}},
     {"mark":{"type":"point","filled":true,"fill":"#BDBDBD","stroke":"#777777","strokeWidth":0.6,"size":45,"opacity":1}},
     {"transform":[{"aggregate":[{"op":"max","field":"y","as":"y"}],"groupby":["plot"]},{"lookup":"plot","from":{"data":{"name":"ann"},"key":"plot","fields":["label"]}}],
      "mark":{"type":"text","align":"left","baseline":"middle","fontSize":5.5,"color":"#333333"},"encoding":{"x":{"datum":0},"text":{"field":"label"}}}
    ]
   },
   {"width":98,"height":102,"view":{"stroke":null},
    "title":{"text":"CDK4 PRM","anchor":"start","frame":"group","fontSize":7.5,"fontWeight":"normal","color":"#222222","offset":4},
    "data":{"name":"pts"},"transform":[{"filter":"datum.plot == 'CDK4 PRM'"}],
    "encoding":{
     "x":{"field":"x","type":"quantitative","scale":{"domain":[-5,105],"nice":false,"zero":false},"axis":{"values":[0,25,50,75,100],"title":"Input (µg)","titleFontSize":6.5,"titleFontWeight":"normal","labelFontSize":6,"tickSize":3,"domainColor":"#222222","domainWidth":1.2,"labelPadding":2,"titlePadding":2}},
     "y":{"field":"y","type":"quantitative","scale":{"domain":[-2.2e6,4.9e7],"nice":false,"zero":false},"axis":{"values":[0,1e7,2e7,3e7,4e7],"labelExpr":"replace(replace(format(datum.value, '.0e'), 'e+', 'e+0'), 'e-', 'e-0')","title":"Intensity","titleFontSize":6.5,"titleFontWeight":"normal","labelFontSize":6,"tickSize":3,"domainColor":"#222222","domainWidth":1.2,"labelPadding":2,"titlePadding":4}}
    },
    "layer":[
     {"transform":[{"regression":"y","on":"x"}],"mark":{"type":"line","strokeDash":[5,4],"color":"#4d4d4d","strokeWidth":1.1}},
     {"mark":{"type":"point","filled":true,"fill":"#FF0000","stroke":"#990000","strokeWidth":0.6,"size":45,"opacity":1}},
     {"transform":[{"aggregate":[{"op":"max","field":"y","as":"y"}],"groupby":["plot"]},{"lookup":"plot","from":{"data":{"name":"ann"},"key":"plot","fields":["label"]}}],
      "mark":{"type":"text","align":"left","baseline":"middle","fontSize":5.5,"color":"#333333"},"encoding":{"x":{"datum":0},"text":{"field":"label"}}}
    ]
   },
   {"width":98,"height":102,"view":{"stroke":null},
    "title":{"text":"CDK6 DDA","anchor":"start","frame":"group","fontSize":7.5,"fontWeight":"normal","color":"#222222","offset":4},
    "data":{"name":"pts"},"transform":[{"filter":"datum.plot == 'CDK6 DDA'"}],
    "encoding":{
     "x":{"field":"x","type":"quantitative","scale":{"domain":[-5,105],"nice":false,"zero":false},"axis":{"values":[0,25,50,75,100],"title":"Input (µg)","titleFontSize":6.5,"titleFontWeight":"normal","labelFontSize":6,"tickSize":3,"domainColor":"#222222","domainWidth":1.2,"labelPadding":2,"titlePadding":2}},
     "y":{"field":"y","type":"quantitative","scale":{"domain":[-4.7e5,1.07e7],"nice":false,"zero":false},"axis":{"values":[0,2.5e6,5e6,7.5e6,1e7],"labelExpr":"replace(replace(format(datum.value, '.1e'), 'e+', 'e+0'), 'e-', 'e-0')","title":"Intensity","titleFontSize":6.5,"titleFontWeight":"normal","labelFontSize":6,"tickSize":3,"domainColor":"#222222","domainWidth":1.2,"labelPadding":2,"titlePadding":4}}
    },
    "layer":[
     {"transform":[{"regression":"y","on":"x"}],"mark":{"type":"line","strokeDash":[5,4],"color":"#4d4d4d","strokeWidth":1.1}},
     {"mark":{"type":"point","filled":true,"fill":"#BDBDBD","stroke":"#777777","strokeWidth":0.6,"size":45,"opacity":1}}
    ]
   },
   {"width":98,"height":102,"view":{"stroke":null},
    "title":{"text":"CDK6 PRM","anchor":"start","frame":"group","fontSize":7.5,"fontWeight":"normal","color":"#222222","offset":4},
    "data":{"name":"pts"},"transform":[{"filter":"datum.plot == 'CDK6 PRM'"}],
    "encoding":{
     "x":{"field":"x","type":"quantitative","scale":{"domain":[-5,105],"nice":false,"zero":false},"axis":{"values":[0,25,50,75,100],"title":"Input (µg)","titleFontSize":6.5,"titleFontWeight":"normal","labelFontSize":6,"tickSize":3,"domainColor":"#222222","domainWidth":1.2,"labelPadding":2,"titlePadding":2}},
     "y":{"field":"y","type":"quantitative","scale":{"domain":[-3.2e5,7.1e6],"nice":false,"zero":false},"axis":{"values":[0,2e6,4e6,6e6],"labelExpr":"replace(replace(format(datum.value, '.0e'), 'e+', 'e+0'), 'e-', 'e-0')","title":"Intensity","titleFontSize":6.5,"titleFontWeight":"normal","labelFontSize":6,"tickSize":3,"domainColor":"#222222","domainWidth":1.2,"labelPadding":2,"titlePadding":4}}
    },
    "layer":[
     {"transform":[{"regression":"y","on":"x"}],"mark":{"type":"line","strokeDash":[5,4],"color":"#4d4d4d","strokeWidth":1.1}},
     {"mark":{"type":"point","filled":true,"fill":"#FF0000","stroke":"#990000","strokeWidth":0.6,"size":45,"opacity":1}},
     {"transform":[{"aggregate":[{"op":"max","field":"y","as":"y"}],"groupby":["plot"]},{"lookup":"plot","from":{"data":{"name":"ann"},"key":"plot","fields":["label"]}}],
      "mark":{"type":"text","align":"left","baseline":"middle","fontSize":5.5,"color":"#333333"},"encoding":{"x":{"datum":0},"text":{"field":"label"}}}
    ]
   },
   {"width":98,"height":104,"view":{"stroke":null},
    "title":{"text":"AKT2 DDA","anchor":"start","frame":"group","fontSize":7.5,"fontWeight":"normal","color":"#222222","offset":4},
    "data":{"name":"pts"},"transform":[{"filter":"datum.plot == 'AKT2 DDA'"}],
    "encoding":{
     "x":{"field":"x","type":"quantitative","scale":{"domain":[-5,105],"nice":false,"zero":false},"axis":{"values":[0,25,50,75,100],"title":"Input (µg)","titleFontSize":6.5,"titleFontWeight":"normal","labelFontSize":6,"tickSize":3,"domainColor":"#222222","domainWidth":1.2,"labelPadding":2,"titlePadding":2}},
     "y":{"field":"y","type":"quantitative","scale":{"domain":[-2.8e5,5.8e6],"nice":false,"zero":false},"axis":{"values":[0,2e6,4e6],"labelExpr":"replace(replace(format(datum.value, '.0e'), 'e+', 'e+0'), 'e-', 'e-0')","title":"Intensity","titleFontSize":6.5,"titleFontWeight":"normal","labelFontSize":6,"tickSize":3,"domainColor":"#222222","domainWidth":1.2,"labelPadding":2,"titlePadding":4}}
    },
    "layer":[
     {"transform":[{"regression":"y","on":"x"}],"mark":{"type":"line","strokeDash":[5,4],"color":"#4d4d4d","strokeWidth":1.1}},
     {"mark":{"type":"point","filled":true,"fill":"#BDBDBD","stroke":"#777777","strokeWidth":0.6,"size":45,"opacity":1}},
     {"transform":[{"aggregate":[{"op":"max","field":"y","as":"y"}],"groupby":["plot"]},{"lookup":"plot","from":{"data":{"name":"ann"},"key":"plot","fields":["label"]}}],
      "mark":{"type":"text","align":"left","baseline":"middle","fontSize":5.5,"color":"#333333"},"encoding":{"x":{"datum":0},"text":{"field":"label"}}}
    ]
   },
   {"width":98,"height":104,"view":{"stroke":null},
    "title":{"text":"AKT2 PRM","anchor":"start","frame":"group","fontSize":7.5,"fontWeight":"normal","color":"#222222","offset":4},
    "data":{"name":"pts"},"transform":[{"filter":"datum.plot == 'AKT2 PRM'"}],
    "encoding":{
     "x":{"field":"x","type":"quantitative","scale":{"domain":[-5,105],"nice":false,"zero":false},"axis":{"values":[0,25,50,75,100],"title":"Input (µg)","titleFontSize":6.5,"titleFontWeight":"normal","labelFontSize":6,"tickSize":3,"domainColor":"#222222","domainWidth":1.2,"labelPadding":2,"titlePadding":2}},
     "y":{"field":"y","type":"quantitative","scale":{"domain":[-1.6e5,3.44e6],"nice":false,"zero":false},"axis":{"values":[0,1e6,2e6,3e6],"labelExpr":"replace(replace(format(datum.value, '.0e'), 'e+', 'e+0'), 'e-', 'e-0')","title":"Intensity","titleFontSize":6.5,"titleFontWeight":"normal","labelFontSize":6,"tickSize":3,"domainColor":"#222222","domainWidth":1.2,"labelPadding":2,"titlePadding":4}}
    },
    "layer":[
     {"transform":[{"regression":"y","on":"x"}],"mark":{"type":"line","strokeDash":[5,4],"color":"#4d4d4d","strokeWidth":1.1}},
     {"mark":{"type":"point","filled":true,"fill":"#FF0000","stroke":"#990000","strokeWidth":0.6,"size":45,"opacity":1}},
     {"transform":[{"aggregate":[{"op":"max","field":"y","as":"y"}],"groupby":["plot"]},{"lookup":"plot","from":{"data":{"name":"ann"},"key":"plot","fields":["label"]}}],
      "mark":{"type":"text","align":"left","baseline":"middle","fontSize":5.5,"color":"#333333"},"encoding":{"x":{"datum":0},"text":{"field":"label"}}}
    ]
   }
  ]
 }
]
}
